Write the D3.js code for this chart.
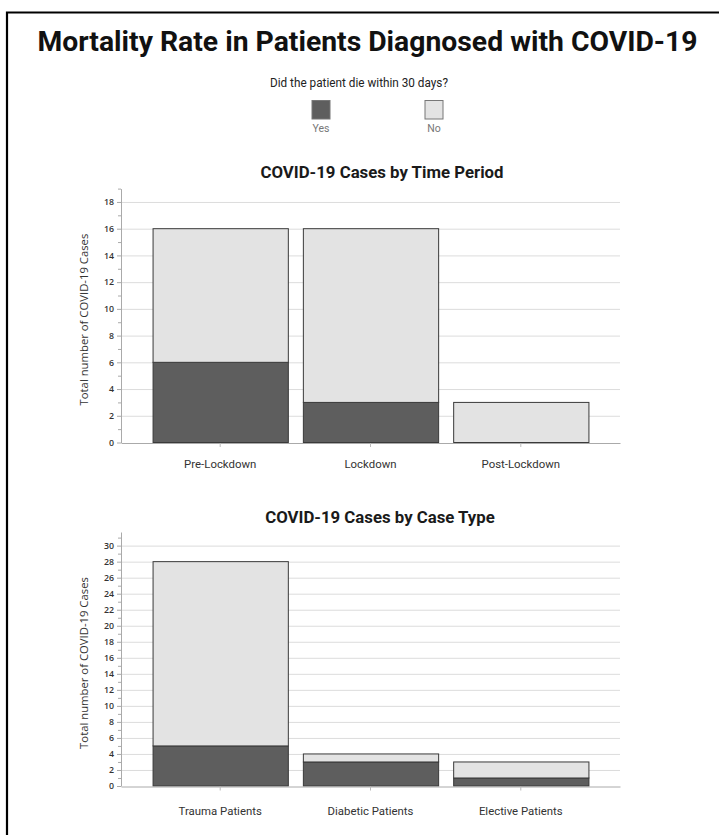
<!DOCTYPE html>
<html><head><meta charset="utf-8">
<script src="https://cdn.jsdelivr.net/npm/d3@7"></script>
<style>
html,body{margin:0;padding:0;background:#fff;}
svg{display:block;}
</style></head>
<body>
<svg id="chart" width="719" height="835"></svg>
<script>
// ---- data ----
const mainTitle = "Mortality Rate in Patients Diagnosed with COVID-19";
const legendTitle = "Did the patient die within 30 days?";
const seriesNames = ["Yes", "No"];
const seriesColors = ["#5e5e5e", "#e3e3e3"];

const periodTitle = "COVID-19 Cases by Time Period";
const periodCategories = ["Pre-Lockdown", "Lockdown", "Post-Lockdown"];
const periodYes = [6, 3, 0];
const periodNo = [10, 13, 3];
const periodTicks = [0, 2, 4, 6, 8, 10, 12, 14, 16, 18];

const typeTitle = "COVID-19 Cases by Case Type";
const typeCategories = ["Trauma Patients", "Diabetic Patients", "Elective Patients"];
const typeYes = [5, 3, 1];
const typeNo = [23, 1, 2];
const typeTicks = [0, 2, 4, 6, 8, 10, 12, 14, 16, 18, 20, 22, 24, 26, 28, 30];

const yAxisTitle = "Total number of COVID-19 Cases";

// ---- drawing ----
const svg = d3.select("#chart");

// frame
svg.append("path")
  .attr("d", "M7,835 L7,12.5 L719,12.5")
  .attr("fill", "none").attr("stroke", "#000").attr("stroke-width", 2.2);

svg.append("text")
  .attr("x", 367.5).attr("y", 51)
  .attr("text-anchor", "middle")
  .attr("textLength", 660)
  .attr("lengthAdjust", "spacingAndGlyphs")
  .style("font-family", "Roboto, sans-serif")
  .style("font-weight", "bold")
  .style("font-size", "27px")
  .attr("fill", "#111")
  .text(mainTitle);

// legend
svg.append("text")
  .attr("x", 359).attr("y", 87)
  .attr("text-anchor", "middle")
  .attr("textLength", 178)
  .attr("lengthAdjust", "spacingAndGlyphs")
  .style("font-family", "Roboto, sans-serif")
  .style("font-size", "12.5px")
  .attr("fill", "#222")
  .text(legendTitle);

const legendX = d3.scalePoint().domain(seriesNames).range([321, 434]);
const lg = svg.append("g").selectAll("g").data(seriesNames).join("g")
  .attr("transform", d => `translate(${legendX(d)},0)`);
lg.append("rect")
  .attr("x", -9).attr("y", 100.5).attr("width", 18).attr("height", 18.5)
  .attr("fill", (d, i) => seriesColors[i])
  .attr("stroke", "#777").attr("stroke-width", 1);
lg.append("text")
  .attr("y", 131.5).attr("text-anchor", "middle")
  .style("font-family", "Roboto, sans-serif")
  .style("font-size", "10.5px")
  .attr("fill", "#777")
  .text(d => d);

function drawChart(opts) {
  const {title, titleX, titleY, cats, yes, no, ticks, yMax, top, bottom, labelY} = opts;
  const left = 121, right = 620;
  const x = d3.scaleBand().domain(cats).range([left, right]).paddingInner(0.1).paddingOuter(0.21);
  const y = d3.scaleLinear().domain([0, yMax]).range([bottom, top]);
  const g = svg.append("g");

  g.append("text")
    .attr("x", titleX).attr("y", titleY)
    .attr("text-anchor", "middle")
    .style("font-family", "Roboto, sans-serif")
    .style("font-weight", "bold")
    .style("font-size", "16.8px")
    .attr("fill", "#1a1a1a")
    .text(title);

  // gridlines
  g.append("g").selectAll("line").data(ticks.filter(t => t > 0)).join("line")
    .attr("x1", left).attr("x2", right)
    .attr("y1", d => y(d) + 0.5).attr("y2", d => y(d) + 0.5)
    .attr("stroke", "#dcdcdc").attr("stroke-width", 1);

  // y axis
  const minor = d3.range(1, Math.floor(yMax) + 1, 2);
  const yAxis = g.append("g").attr("transform", `translate(${left},0)`)
    .call(d3.axisLeft(y).tickValues(ticks).tickSize(4).tickPadding(3).tickSizeOuter(0));
  yAxis.select(".domain").attr("stroke", "#aaa");
  yAxis.selectAll(".tick line").attr("stroke", "#aaa");
  yAxis.selectAll(".tick text")
    .style("font-family", "'Open Sans', sans-serif")
    .style("font-size", "8.8px")
    .style("font-weight", "600")
    .attr("fill", "#333");
  g.append("g").selectAll("line").data(minor).join("line")
    .attr("x1", left - 3).attr("x2", left)
    .attr("y1", d => y(d) + 0.5).attr("y2", d => y(d) + 0.5)
    .attr("stroke", "#aaa");

  // y axis title
  g.append("text")
    .attr("transform", `translate(88,${(top + bottom) / 2 + 4}) rotate(-90)`)
    .attr("text-anchor", "middle")
    .style("font-family", "'Open Sans', sans-serif")
    .style("font-size", "11.3px")
    .attr("fill", "#333")
    .text(yAxisTitle);

  // bars
  const rows = cats.map((c, i) => ({c, yes: yes[i], no: no[i]}));
  const stack = d3.stack().keys(["yes", "no"])(rows);
  g.append("g").selectAll("g").data(stack).join("g")
    .attr("fill", (d, i) => seriesColors[i])
    .selectAll("rect").data(d => d.filter(p => p[1] > p[0])).join("rect")
    .attr("x", d => x(d.data.c) + 0.5)
    .attr("width", x.bandwidth())
    .attr("y", d => y(d[1]))
    .attr("height", d => y(d[0]) - y(d[1]))
    .attr("stroke", "#3a3a3a").attr("stroke-width", 1);

  // x axis
  const xAxis = g.append("g").attr("transform", `translate(0,${bottom + 0.5})`)
    .call(d3.axisBottom(x).tickSize(4).tickSizeOuter(0).tickPadding(labelY));
  xAxis.select(".domain").attr("stroke", "#aaa");
  xAxis.selectAll(".tick line").attr("stroke", "#bbb");
  xAxis.selectAll(".tick text")
    .style("font-family", "Roboto, sans-serif")
    .style("font-size", "11.4px")
    .attr("fill", "#333");
}

drawChart({title: periodTitle, titleX: 382, titleY: 178, cats: periodCategories,
  yes: periodYes, no: periodNo, ticks: periodTicks, yMax: 19, top: 188.6, bottom: 442.5, labelY: 13});
drawChart({title: typeTitle, titleX: 380, titleY: 523, cats: typeCategories,
  yes: typeYes, no: typeNo, ticks: typeTicks, yMax: 31.7, top: 532, bottom: 786, labelY: 16});
</script>
</body></html>
